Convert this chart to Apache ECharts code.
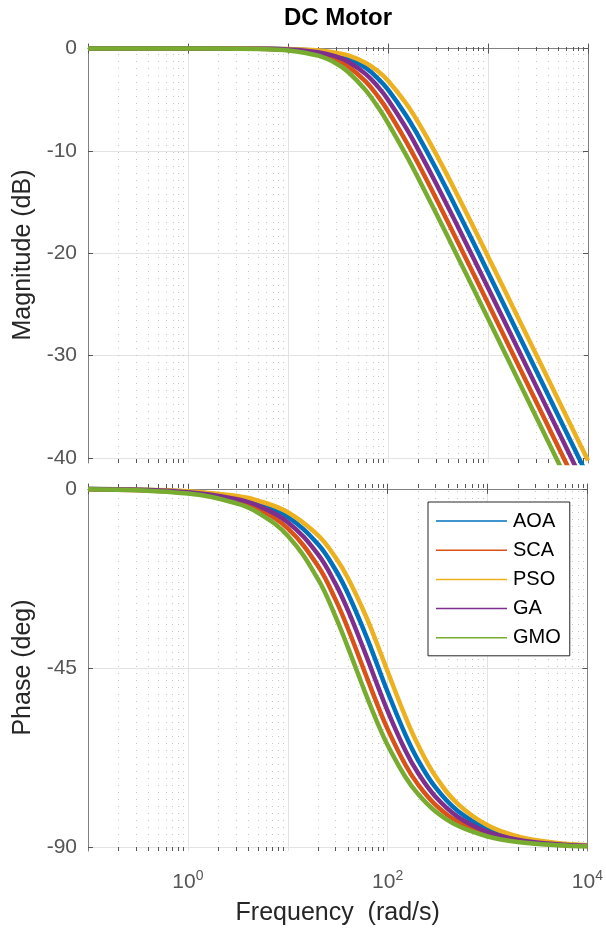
<!DOCTYPE html>
<html>
<head>
<meta charset="utf-8">
<script src="https://cdn.jsdelivr.net/npm/echarts@6/dist/echarts.min.js"></script>
<style>html,body{margin:0;padding:0;background:#fff}#c{width:606px;height:928px}</style>
</head>
<body>
<div id="c"></div>
<script>
// Frequencies (rad/s) at which values were read
const freq = [0.1, 1, 3, 5, 10, 20, 30, 40, 60, 80, 100, 150, 200, 300, 500, 1000, 2000, 5000, 10000];
// Magnitude (dB)
const magAOA = [0, 0, -0.01, -0.02, -0.07, -0.26, -0.56, -0.95, -1.90, -2.96, -4.02, -6.46, -8.51, -11.68, -15.92, -21.86, -27.86, -35.81, -41.83];
const magSCA = [0, 0, -0.01, -0.03, -0.13, -0.50, -1.06, -1.74, -3.24, -4.73, -6.10, -8.99, -11.24, -14.58, -18.92, -24.90, -30.91, -38.86, -44.88];
const magPSO = [0, 0, 0, -0.01, -0.05, -0.18, -0.40, -0.68, -1.41, -2.25, -3.15, -5.30, -7.20, -10.24, -14.40, -20.31, -26.30, -34.25, -40.26];
const magGA  = [0, 0, -0.01, -0.02, -0.09, -0.36, -0.77, -1.29, -2.50, -3.77, -5.00, -7.68, -9.85, -13.11, -17.41, -23.37, -29.38, -37.33, -43.35];
const magGMO = [0, 0, -0.02, -0.05, -0.19, -0.70, -1.43, -2.29, -4.09, -5.77, -7.28, -10.32, -12.64, -16.03, -20.39, -26.38, -32.40, -40.36, -46.37];
// Phase (deg)
const phAOA = [-0.07, -0.71, -2.12, -3.53, -7.04, -13.87, -20.32, -26.28, -36.53, -44.65, -50.99, -61.63, -67.95, -74.89, -80.80, -85.37, -87.68, -89.07, -89.54];
const phSCA = [-0.10, -1.00, -3.01, -5.01, -9.95, -19.33, -27.76, -35.06, -46.47, -54.53, -60.32, -69.19, -74.09, -79.24, -83.50, -86.74, -88.37, -89.35, -89.67];
const phPSO = [-0.06, -0.59, -1.77, -2.95, -5.89, -11.65, -17.19, -22.41, -31.74, -39.51, -45.87, -57.11, -64.13, -72.08, -79.02, -84.46, -87.22, -88.89, -89.44];
const phGA  = [-0.08, -0.84, -2.53, -4.21, -8.37, -16.39, -23.81, -30.47, -41.42, -49.64, -55.78, -65.61, -71.22, -77.23, -82.25, -86.11, -88.05, -89.22, -89.61];
const phGMO = [-0.12, -1.19, -3.58, -5.95, -11.77, -22.62, -32.00, -39.81, -51.34, -59.04, -64.36, -72.26, -76.50, -80.91, -84.52, -87.25, -88.63, -89.45, -89.72];

const names = ['AOA', 'SCA', 'PSO', 'GA', 'GMO'];
const magTicks = [0, -10, -20, -30, -40];
const phTicks = [0, -45, -90];
const minorFreq = [0.2,0.3,0.4,0.5,0.6,0.7,0.8,0.9, 2,3,4,5,6,7,8,9, 20,30,40,50,60,70,80,90, 200,300,400,500,600,700,800,900, 2000,3000,4000,5000,6000,7000,8000,9000];

const colors = ['#0072BD', '#D95319', '#EDB120', '#7E2F8E', '#77AC30'];
const FONT = '"Liberation Sans", Arial, Helvetica, sans-serif';
const magRange = [-40.5, 0.15];
const phRange = [-90.9, 1.2];

const magData = [magAOA, magSCA, magPSO, magGA, magGMO];
const phData = [phAOA, phSCA, phPSO, phGA, phGMO];

function xAx(gridIndex, pos, showLabels, withName) {
  const a = {
    type: 'log', logBase: 10, gridIndex: gridIndex, position: pos, min: 0.1, max: 10000,
    axisLine: {show: true, lineStyle: {color: '#808080', width: 1}},
    axisTick: {show: true, inside: true, length: 5, lineStyle: {color: '#555'}},
    splitLine: {show: pos === 'bottom', lineStyle: {color: '#e3e3e3', width: 1}},
    axisLabel: {show: showLabels, margin: 18, color: '#555', fontFamily: FONT,
      formatter: function (v) {
        const e = Math.round(Math.log10(v));
        return (e % 2 === 0) ? '{b|10}{s|' + e + '}' : '';
      },
      rich: {
        b: {fontSize: 21, fontFamily: FONT, color: '#555'},
        s: {fontSize: 14, fontFamily: FONT, color: '#555', verticalAlign: 'bottom', padding: [0, 0, 12, 0]}
      }
    }
  };
  if (withName) {
    a.name = 'Frequency  (rad/s)';
    a.nameLocation = 'middle';
    a.nameGap = 50;
    a.nameTextStyle = {fontSize: 25, fontFamily: FONT, color: '#262626'};
  }
  return a;
}
function yAx(gridIndex, pos, range, ticks, name) {
  const a = {
    type: 'value', gridIndex: gridIndex, position: pos, min: range[0], max: range[1],
    axisLine: {show: true, lineStyle: {color: '#808080', width: 1}},
    axisTick: {show: true, inside: true, length: 5, customValues: ticks, lineStyle: {color: '#555'}},
    splitLine: {show: pos === 'left', lineStyle: {color: '#e3e3e3', width: 1}},
    axisLabel: {show: pos === 'left', customValues: ticks, margin: 11, fontSize: 21, fontFamily: FONT, color: '#555', padding: [6, 0, 0, 0]}
  };
  if (name) {
    a.name = name;
    a.nameLocation = 'middle';
    a.nameGap = 52;
    a.nameTextStyle = {fontSize: 25, fontFamily: FONT, color: '#262626'};
  }
  return a;
}

function minorSeries(xi, yi, range) {
  return {
    type: 'custom', xAxisIndex: xi, yAxisIndex: yi, silent: true, z: 1,
    data: minorFreq.map(f => [f, 0]),
    renderItem: function (params, api) {
      const f = api.value(0);
      const top = api.coord([f, range[1]]);
      const bot = api.coord([f, range[0]]);
      const x = Math.round(top[0]) + 0.5;
      return {type: 'group', children: [
        {type: 'line', shape: {x1: x, y1: top[1], x2: x, y2: bot[1]}, style: {stroke: '#c4c4c4', lineWidth: 1, lineDash: [1, 6]}},
        {type: 'line', shape: {x1: x, y1: bot[1], x2: x, y2: bot[1] - 4}, style: {stroke: '#555', lineWidth: 1}},
        {type: 'line', shape: {x1: x, y1: top[1], x2: x, y2: top[1] + 4}, style: {stroke: '#555', lineWidth: 1}}
      ]};
    }
  };
}

const series = [minorSeries(0, 0, magRange), minorSeries(2, 2, phRange)];
names.forEach((n, i) => {
  series.push({
    name: n, type: 'line', xAxisIndex: 0, yAxisIndex: 0, showSymbol: false, symbol: 'none',
    smooth: 0.4, color: colors[i], z: 3 + i,
    lineStyle: {width: 4.5, color: colors[i]},
    data: freq.map((f, k) => [f, magData[i][k]])
  });
});
names.forEach((n, i) => {
  series.push({
    name: n, type: 'line', xAxisIndex: 2, yAxisIndex: 2, showSymbol: false, symbol: 'none',
    smooth: 0.4, color: colors[i], z: 3 + i,
    lineStyle: {width: 4.5, color: colors[i]},
    data: freq.map((f, k) => [f, phData[i][k]])
  });
});

const chart = echarts.init(document.getElementById('c'), null, {renderer: 'canvas'});
chart.setOption({
  animation: false,
  backgroundColor: '#fff',
  title: {text: 'DC Motor', left: 338, textAlign: 'center', top: 6, padding: 0,
    textStyle: {fontSize: 24, fontWeight: 'bold', fontFamily: FONT, color: '#000'}},
  legend: {
    data: names, orient: 'vertical', left: 428, top: 502, icon: 'rect',
    itemWidth: 71, itemHeight: 1.5, itemGap: 9.2,
    padding: [9, 9, 8, 8], borderColor: '#262626', borderWidth: 1, backgroundColor: '#fff',
    textStyle: {fontSize: 20, fontFamily: FONT, color: '#000', padding: [0, 0, 0, 1]},
    z: 20
  },
  grid: [
    {left: 88, top: 47, width: 500, height: 416, show: false},
    {left: 88, top: 484, width: 500, height: 367, show: false}
  ],
  xAxis: [xAx(0, 'bottom', false, false), xAx(0, 'top', false, false), xAx(1, 'bottom', true, true), xAx(1, 'top', false, false)],
  yAxis: [yAx(0, 'left', magRange, magTicks, 'Magnitude (dB)'), yAx(0, 'right', magRange, magTicks, null),
          yAx(1, 'left', phRange, phTicks, 'Phase (deg)'), yAx(1, 'right', phRange, phTicks, null)],
  series: series
});
</script>
</body>
</html>
